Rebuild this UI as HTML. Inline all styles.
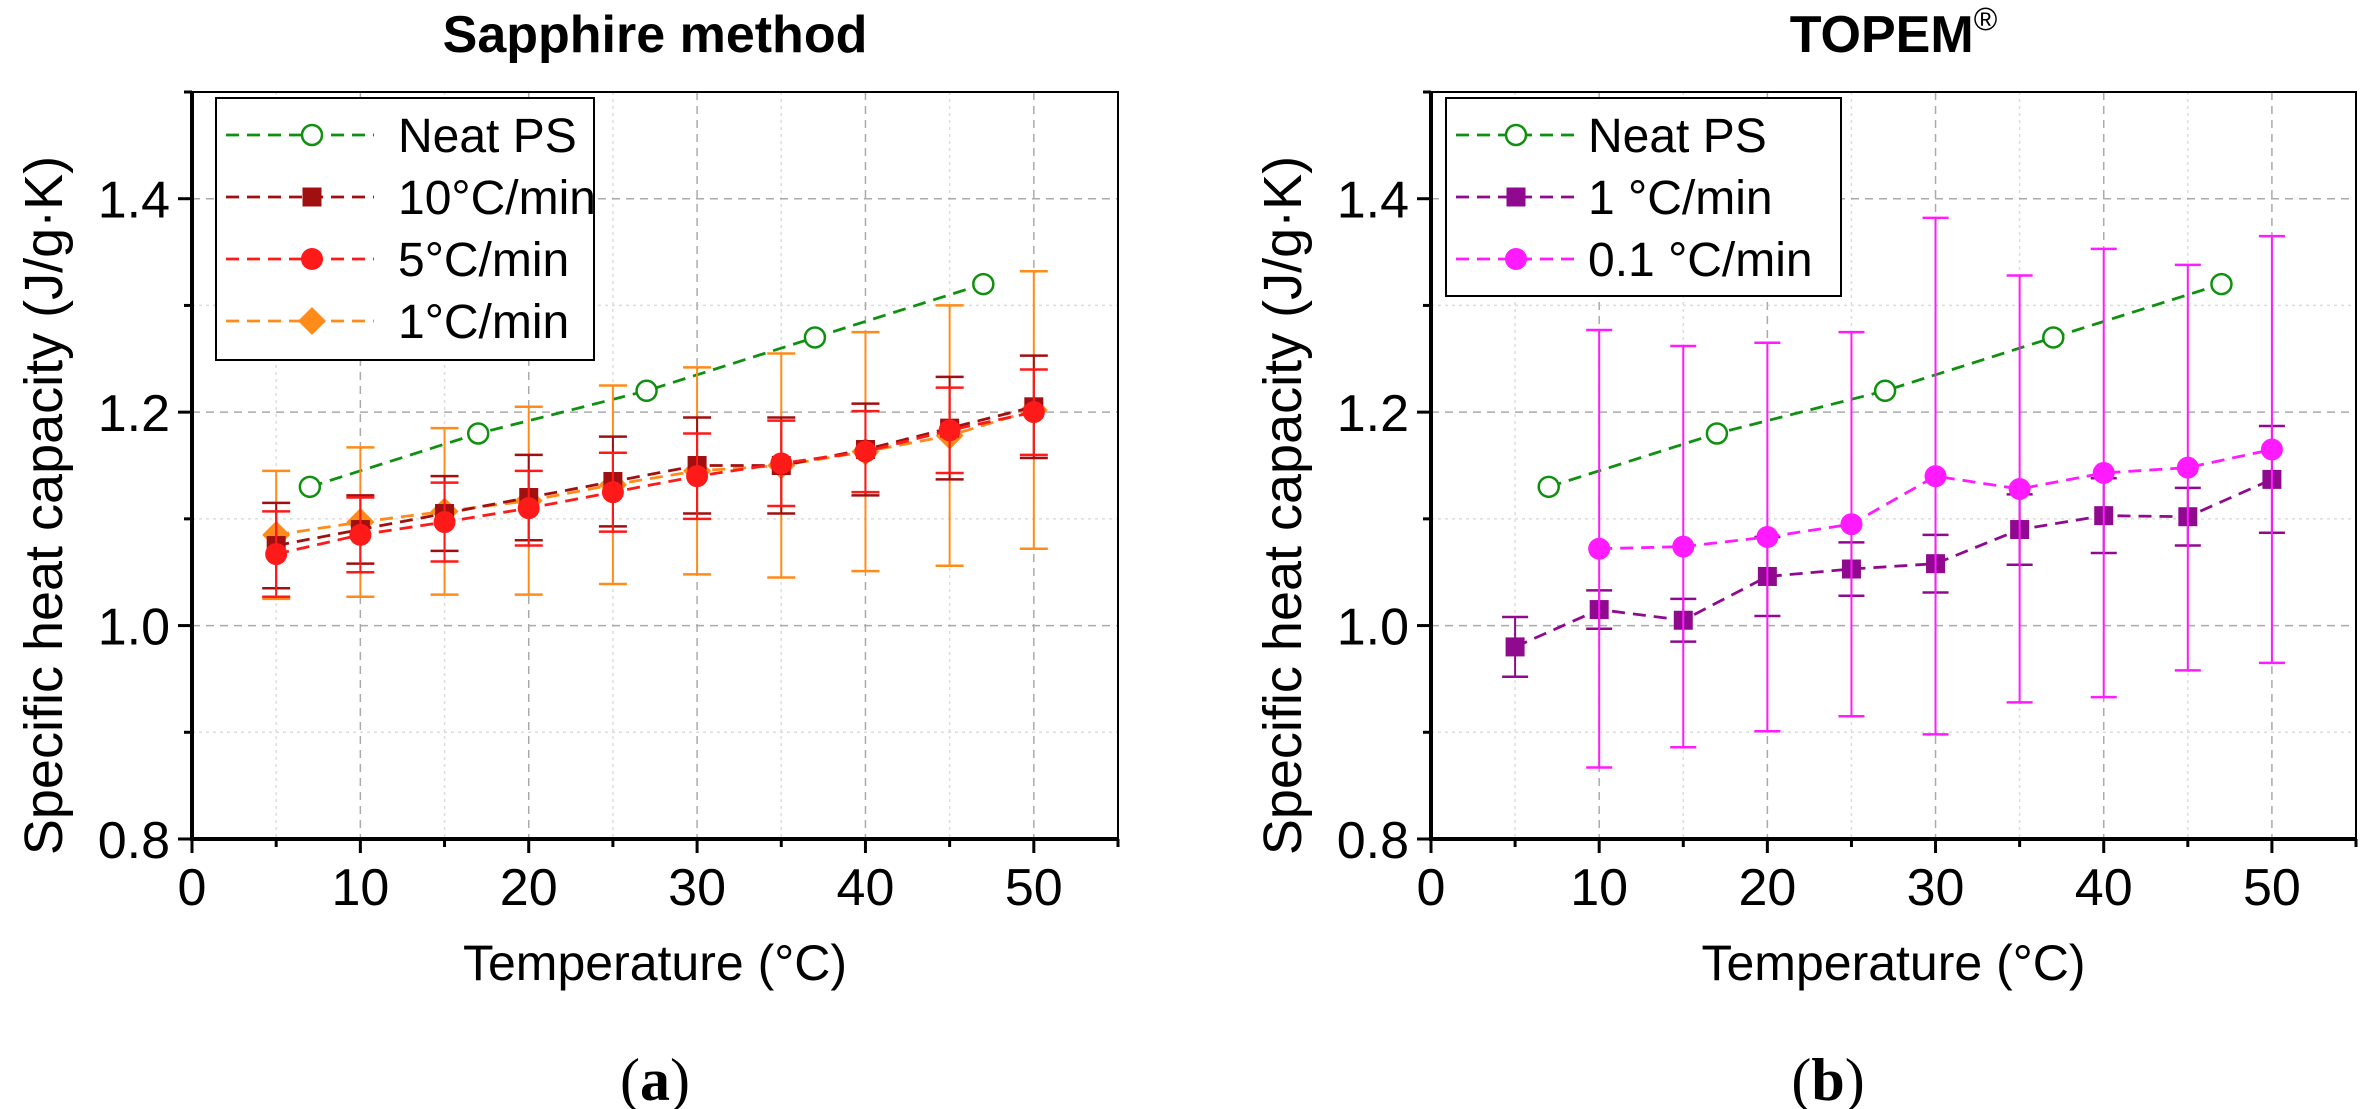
<!DOCTYPE html>
<html><head><meta charset="utf-8"><style>
html,body{margin:0;padding:0;background:#fff;}
svg{display:block;font-family:"Liberation Sans",Arial,sans-serif;}
</style></head><body>
<svg id="fig" width="2378" height="1109" viewBox="0 0 2378 1109" xmlns="http://www.w3.org/2000/svg"></svg>
<script>
const xTicks=[0,10,20,30,40,50];
const yTicks=[0.8,1.0,1.2,1.4];
const yTickLabels=["0.8","1.0","1.2","1.4"];
const neatX=[7,17,27,37,47];
const neatY=[1.13,1.18,1.22,1.27,1.32];
const tempX=[5,10,15,20,25,30,35,40,45,50];
const r10Y=[1.075,1.09,1.105,1.12,1.135,1.15,1.15,1.165,1.185,1.205];
const r10E=[0.04,0.032,0.035,0.04,0.042,0.045,0.045,0.043,0.048,0.048];
const r5Y=[1.067,1.085,1.097,1.11,1.125,1.14,1.152,1.163,1.183,1.2];
const r5E=[0.04,0.035,0.037,0.035,0.037,0.04,0.04,0.038,0.04,0.04];
const r1Y=[1.085,1.097,1.107,1.117,1.132,1.145,1.15,1.163,1.178,1.202];
const r1E=[0.06,0.07,0.078,0.088,0.093,0.097,0.105,0.112,0.122,0.13];
const t1Y=[0.98,1.015,1.005,1.046,1.053,1.058,1.09,1.103,1.102,1.137];
const t1E=[0.028,0.018,0.02,0.037,0.025,0.027,0.033,0.035,0.027,0.05];
const t01X=[10,15,20,25,30,35,40,45,50];
const t01Y=[1.072,1.074,1.083,1.095,1.14,1.128,1.143,1.148,1.165];
const t01E=[0.205,0.188,0.182,0.18,0.242,0.2,0.21,0.19,0.2];

const NS="http://www.w3.org/2000/svg";
const svg=document.getElementById('fig');
function el(tag,attrs,parent,text){const e=document.createElementNS(NS,tag);for(const k in attrs)e.setAttribute(k,attrs[k]);if(text!==undefined)e.textContent=text;(parent||svg).appendChild(e);return e;}

function panel(x0,x1,title,key,sup){
  const yTop=92,yBot=839;
  const sx=v=>x0+(v/55)*(x1-x0);
  const sy=v=>yBot-(v-0.8)/0.7*(yBot-yTop);
  const g=el('g',{});
  
  
  for(let v=5;v<55;v+=10){el('line',{x1:sx(v),x2:sx(v),y1:yTop,y2:yBot,stroke:'#ddd','stroke-width':1.5,'stroke-dasharray':'3,4'},g);}
  for(let v=0.9;v<1.5;v+=0.2){el('line',{x1:x0,x2:x1,y1:sy(v),y2:sy(v),stroke:'#ddd','stroke-width':1.5,'stroke-dasharray':'3,4'},g);}
  xTicks.forEach(v=>{if(v>0)el('line',{x1:sx(v),x2:sx(v),y1:yTop,y2:yBot,stroke:'#aaa','stroke-width':1.5,'stroke-dasharray':'8,6'},g);});
  yTicks.forEach(v=>{if(v>0.8)el('line',{x1:x0,x2:x1,y1:sy(v),y2:sy(v),stroke:'#aaa','stroke-width':1.5,'stroke-dasharray':'8,6'},g);});
  el('rect',{x:x0,y:yTop,width:x1-x0,height:yBot-yTop,fill:'none',stroke:'#000','stroke-width':2},g);
  el('line',{x1:x0,x2:x0,y1:yTop,y2:yBot+2,stroke:'#000','stroke-width':4},g);
  el('line',{x1:x0-2,x2:x1,y1:yBot,y2:yBot,stroke:'#000','stroke-width':4},g);
  for(let v=0;v<=55;v+=5){el('line',{x1:sx(v),x2:sx(v),y1:yBot,y2:yBot+(v%10===0?14:8),stroke:'#000','stroke-width':3},g);}
  xTicks.forEach(v=>{const t=el('text',{x:sx(v),y:yBot+66,'font-size':52,'text-anchor':'middle'},g,String(v));});
  for(let v=0.8;v<=1.501;v+=0.1){el('line',{x1:x0-((Math.round(v*10)%2===0)?14:8),x2:x0,y1:sy(v),y2:sy(v),stroke:'#000','stroke-width':3},g);}
  yTicks.forEach((v,i)=>{const t=el('text',{x:x0-22,y:sy(v)+19,'font-size':52,'text-anchor':'end'},g,yTickLabels[i]);});
  const tt=el('text',{x:(x0+x1)/2,y:52,'font-size':52,'font-weight':'bold','text-anchor':'middle'},g,title);
  if(sup){el('tspan',{'font-size':32,'font-weight':'normal',dy:-22},tt,sup);}
  
  const xt=el('text',{x:(x0+x1)/2,y:980,'font-size':50,'text-anchor':'middle'},g,'Temperature (°C)');
  
  const cy=(yTop+yBot)/2+40;
  const yt=el('text',{x:x0-130,y:cy,'font-size':54,'text-anchor':'middle',transform:`rotate(-90 ${x0-130} ${cy})`},g,'Specific heat capacity (J/g·K)');
  
  return {g,sx,sy};
}

function marker(g,type,cx,cy,color){
  if(type==='circle-open')return el('circle',{cx,cy,r:10,fill:'#fff',stroke:color,'stroke-width':2.5},g);
  if(type==='square')return el('rect',{x:cx-9.5,y:cy-9.5,width:19,height:19,fill:color},g);
  if(type==='circle')return el('circle',{cx,cy,r:11,fill:color},g);
  if(type==='diamond')return el('polygon',{points:`${cx},${cy-14} ${cx+14},${cy} ${cx},${cy+14} ${cx-14},${cy}`,fill:color},g);
}
function series(p,name,xs,ys,es,color,type,capW){
  const g=el('g',{},p.g);
  
  
  if(es){xs.forEach((x,i)=>{const X=p.sx(x),a=p.sy(ys[i]+es[i]),b=p.sy(ys[i]-es[i]);
    el('line',{x1:X,x2:X,y1:a,y2:b,stroke:color,'stroke-width':2},g);
    el('line',{x1:X-capW,x2:X+capW,y1:a,y2:a,stroke:color,'stroke-width':2.5},g);
    el('line',{x1:X-capW,x2:X+capW,y1:b,y2:b,stroke:color,'stroke-width':2.5},g);});}
  el('polyline',{points:xs.map((x,i)=>p.sx(x)+','+p.sy(ys[i])).join(' '),fill:'none',stroke:color,'stroke-width':2.8,'stroke-dasharray':'13,8'},g);
  xs.forEach((x,i)=>{const m=marker(g,type,p.sx(x),p.sy(ys[i]),color);});
}
function legend(p,x,y,w,h,lineEnd,mx,tx,items){
  const g=el('g',{},p.g);
  
  
  el('rect',{x,y,width:w,height:h,fill:'#fff',stroke:'#000','stroke-width':2},g);
  items.forEach((it,i)=>{const yy=y+37+i*62;
    const e=el('g',{},g);
    
    
    el('line',{x1:x+10,x2:x+lineEnd,y1:yy,y2:yy,stroke:it[1],'stroke-width':2.8,'stroke-dasharray':'13,8'},e);
    marker(e,it[2],x+mx,yy,it[1]);
    el('text',{x:x+tx,y:yy+17,'font-size':48},e,it[0]);});
}

const A=panel(192,1118,'Sapphire method','sapphire');
series(A,'neat-ps-series',neatX,neatY,null,'#109010','circle-open');
series(A,'rate-1-series',tempX,r1Y,r1E,'#ff8c1a','diamond',14);
series(A,'rate-10-series',tempX,r10Y,r10E,'#a01010','square',14);
series(A,'rate-5-series',tempX,r5Y,r5E,'#ff1a1a','circle',14);
legend(A,216,98,378,262,158,96,182,[['Neat PS','#109010','circle-open'],['10°C/min','#a01010','square'],['5°C/min','#ff1a1a','circle'],['1°C/min','#ff8c1a','diamond']]);

const B=panel(1431,2356,'TOPEM','topem','®');
series(B,'neat-ps-series',neatX,neatY,null,'#109010','circle-open');
series(B,'topem-1-series',tempX,t1Y,t1E,'#900a90','square',13);
series(B,'topem-01-series',t01X,t01Y,t01E,'#ff1aff','circle',13);
legend(B,1446,98,395,198,128,70,142,[['Neat PS','#109010','circle-open'],['1 °C/min','#900a90','square'],['0.1 °C/min','#ff1aff','circle']]);

[[655,'a','panel-a-label'],[1828,'b','panel-b-label']].forEach(d=>{
  const t=el('text',{x:d[0],y:1100,'font-size':60,'text-anchor':'middle','font-family':'Liberation Serif, serif'});
  
  
  el('tspan',{},t,'(');el('tspan',{'font-weight':'bold'},t,d[1]);el('tspan',{},t,')');
});
</script>
</body></html>
